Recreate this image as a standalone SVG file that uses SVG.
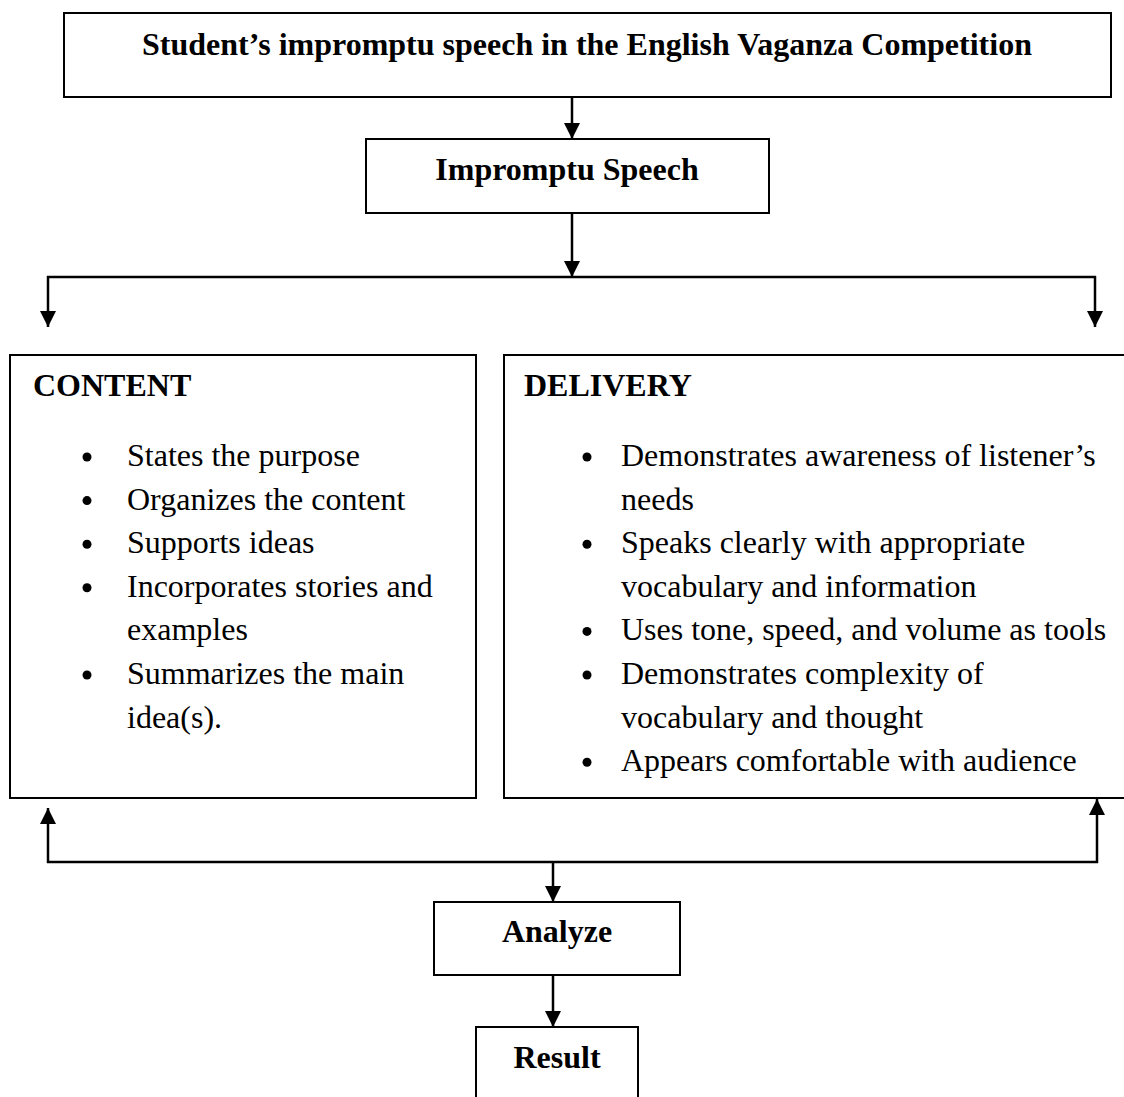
<svg xmlns="http://www.w3.org/2000/svg" width="1124" height="1097" viewBox="0 0 1124 1097">
<style>
.box{fill:#fff;stroke:#000;stroke-width:2}
.h{font-family:"Liberation Serif","Times New Roman",serif;font-weight:bold;font-size:32px;fill:#000}
.t{font-family:"Liberation Serif","Times New Roman",serif;font-size:32px;fill:#000}
.c{stroke:#000;stroke-width:2.5;fill:none}
.b{fill:#000}
</style>
<defs>
<marker id="ah" markerUnits="userSpaceOnUse" markerWidth="16" markerHeight="16" viewBox="0 0 16 16" refX="16" refY="8" orient="auto">
<path d="M0,0 L16,8 L0,16 Z" fill="#000"/>
</marker>
</defs>
<rect width="1124" height="1097" fill="#fff"/>
<g id="connectors">
<line class="c" x1="572" y1="97" x2="572" y2="139" marker-end="url(#ah)"/>
<line class="c" x1="572" y1="213" x2="572" y2="277" marker-end="url(#ah)"/>
<line class="c" x1="47" y1="277" x2="1096" y2="277"/>
<line class="c" x1="48" y1="276" x2="48" y2="327" marker-end="url(#ah)"/>
<line class="c" x1="1095" y1="276" x2="1095" y2="327" marker-end="url(#ah)"/>
<line class="c" x1="47" y1="862" x2="1098" y2="862"/>
<line class="c" x1="48" y1="863" x2="48" y2="808" marker-end="url(#ah)"/>
<line class="c" x1="1097" y1="863" x2="1097" y2="799" marker-end="url(#ah)"/>
<line class="c" x1="553" y1="862" x2="553" y2="902" marker-end="url(#ah)"/>
<line class="c" x1="553" y1="975" x2="553" y2="1027" marker-end="url(#ah)"/>
</g>
<g id="title">
<rect class="box" x="64" y="13" width="1047" height="84"/>
<text class="h" x="587" y="55" text-anchor="middle">Student’s impromptu speech in the English Vaganza Competition</text>
</g>
<g id="impromptu">
<rect class="box" x="366" y="139" width="403" height="74"/>
<text class="h" x="567" y="180" text-anchor="middle">Impromptu Speech</text>
</g>
<g id="content">
<rect class="box" x="10" y="355" width="466" height="443"/>
<text class="h" x="33" y="396">CONTENT</text>
<circle class="b" cx="87" cy="457" r="4.5"/>
<text class="t" x="127" y="466">States the purpose</text>
<circle class="b" cx="87" cy="500.6" r="4.5"/>
<text class="t" x="127" y="509.6">Organizes the content</text>
<circle class="b" cx="87" cy="544.2" r="4.5"/>
<text class="t" x="127" y="553.2">Supports ideas</text>
<circle class="b" cx="87" cy="587.8" r="4.5"/>
<text class="t" x="127" y="596.8">Incorporates stories and</text>
<text class="t" x="127" y="640.4">examples</text>
<circle class="b" cx="87" cy="675" r="4.5"/>
<text class="t" x="127" y="684">Summarizes the main</text>
<text class="t" x="127" y="727.6">idea(s).</text>
</g>
<g id="delivery">
<rect class="box" x="504" y="355" width="640" height="443"/>
<text class="h" x="524" y="396">DELIVERY</text>
<circle class="b" cx="587" cy="457" r="4.5"/>
<text class="t" x="621" y="466">Demonstrates awareness of listener’s</text>
<text class="t" x="621" y="509.6">needs</text>
<circle class="b" cx="587" cy="544.2" r="4.5"/>
<text class="t" x="621" y="553.2">Speaks clearly with appropriate</text>
<text class="t" x="621" y="596.8">vocabulary and information</text>
<circle class="b" cx="587" cy="631.4" r="4.5"/>
<text class="t" x="621" y="640.4">Uses tone, speed, and volume as tools</text>
<circle class="b" cx="587" cy="675" r="4.5"/>
<text class="t" x="621" y="684">Demonstrates complexity of</text>
<text class="t" x="621" y="727.6">vocabulary and thought</text>
<circle class="b" cx="587" cy="762.2" r="4.5"/>
<text class="t" x="621" y="771.2">Appears comfortable with audience</text>
</g>
<g id="analyze">
<rect class="box" x="434" y="902" width="246" height="73"/>
<text class="h" x="557" y="942" text-anchor="middle">Analyze</text>
</g>
<g id="result">
<rect class="box" x="476" y="1027" width="162" height="90"/>
<text class="h" x="557" y="1068" text-anchor="middle">Result</text>
</g>
</svg>
